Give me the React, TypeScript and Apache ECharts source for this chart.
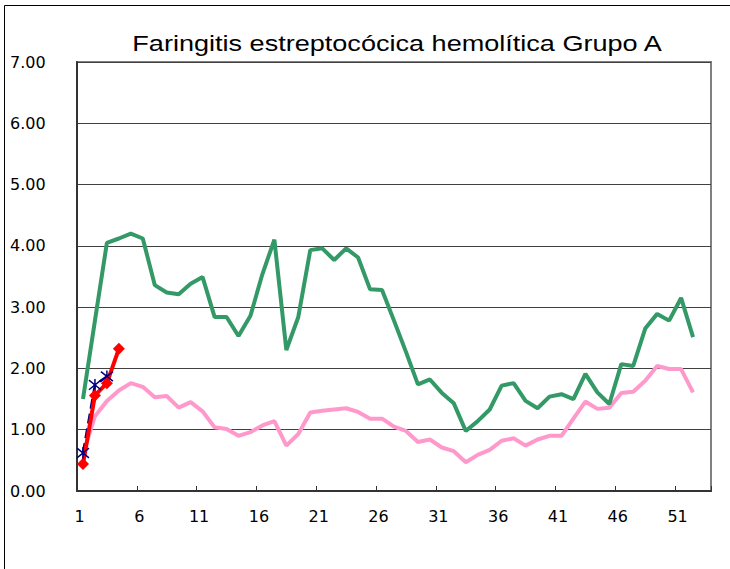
import React, { useEffect, useRef } from "react";
import * as echarts from "echarts";

const weeks: string[] = Array.from({ length: 53 }, (_, i) => String(i + 1));

const greenValues: number[] = [
  1.5, 2.78, 4.05, 4.12, 4.2, 4.12, 3.36, 3.24, 3.21, 3.38,
  3.49, 2.84, 2.84, 2.53, 2.86, 3.54, 4.1, 2.3, 2.84, 3.93,
  3.96, 3.77, 3.96, 3.81, 3.29, 3.28, 2.78, 2.27, 1.74, 1.82,
  1.6, 1.43, 0.98, 1.14, 1.33, 1.72, 1.76, 1.47, 1.35, 1.54,
  1.58, 1.5, 1.91, 1.61, 1.42, 2.07, 2.04, 2.65, 2.89, 2.78,
  3.15, 2.51,
];

const pinkValues: number[] = [
  0.6, 1.22, 1.47, 1.64, 1.76, 1.7, 1.53, 1.55, 1.36, 1.45,
  1.3, 1.04, 1.01, 0.9, 0.96, 1.07, 1.14, 0.74, 0.93, 1.28,
  1.31, 1.33, 1.35, 1.29, 1.18, 1.18, 1.05, 0.98, 0.8, 0.84,
  0.71, 0.65, 0.47, 0.59, 0.67, 0.82, 0.86, 0.74, 0.84, 0.9,
  0.9, 1.18, 1.46, 1.34, 1.36, 1.6, 1.62, 1.8, 2.04, 1.99,
  1.99, 1.61,
];

const blueValues: number[] = [0.62, 1.73, 1.87];
const redValues: number[] = [0.44, 1.56, 1.76, 2.32];

const titleText = "Faringitis estreptocócica hemolítica Grupo A";

const asterisk = "path://M5,0L5,10M1,1L9,9M9,1L1,9";

export default function App() {
  const ref = useRef<HTMLDivElement>(null);

  useEffect(() => {
    if (!ref.current) return;
    const chart = echarts.init(ref.current, null, { renderer: "svg" });
    const labelFont = "'DejaVu Sans', sans-serif";
    chart.setOption({
      animation: false,
      backgroundColor: "#ffffff",
      graphic: [
        {
          type: "rect",
          shape: { x: 4.5, y: 5.5, width: 900, height: 700 },
          style: { fill: "none", stroke: "#000000", lineWidth: 1 },
          silent: true,
          z: 0,
        },
        {
          type: "text",
          x: 397,
          y: 43,
          scaleX: 1.23,
          silent: true,
          z: 10,
          style: {
            text: titleText,
            font: "22px 'Liberation Sans', Arial, sans-serif",
            fill: "#000000",
            align: "center",
            verticalAlign: "middle",
          },
        },
      ],
      grid: {
        left: 77,
        right: 19,
        top: 62,
        bottom: 78,
        show: true,
        backgroundColor: "#ffffff",
        borderColor: "#808080",
        borderWidth: 2,
      },
      xAxis: {
        type: "category",
        data: weeks,
        boundaryGap: true,
        axisLine: { show: true, lineStyle: { color: "#333333", width: 2 } },
        axisTick: {
          show: true,
          inside: true,
          length: 5,
          interval: 4,
          lineStyle: { color: "#333333", width: 1 },
        },
        axisLabel: {
          interval: 4,
          margin: 17,
          padding: [0, 7, 0, 0],
          fontFamily: labelFont,
          fontSize: 16,
          color: "#000000",
        },
        splitLine: { show: false },
      },
      yAxis: {
        type: "value",
        min: 0,
        max: 7,
        interval: 1,
        axisLine: { show: true, lineStyle: { color: "#333333", width: 2 } },
        axisTick: { show: false },
        axisLabel: {
          align: "left",
          margin: 67,
          fontFamily: labelFont,
          fontSize: 16,
          color: "#000000",
          formatter: (v: number) => v.toFixed(2),
        },
        splitLine: { show: true, lineStyle: { color: "#404040", width: 1 } },
      },
      series: [
        {
          name: "Pink",
          type: "line",
          data: pinkValues,
          symbol: "none",
          lineStyle: { color: "#FF99CC", width: 4 },
          itemStyle: { color: "#FF99CC" },
        },
        {
          name: "Green",
          type: "line",
          data: greenValues,
          symbol: "none",
          lineStyle: { color: "#339966", width: 4 },
          itemStyle: { color: "#339966" },
        },
        {
          name: "Blue",
          type: "line",
          data: blueValues,
          symbol: asterisk,
          symbolSize: 12,
          showSymbol: true,
          showAllSymbol: true,
          lineStyle: { color: "#000080", width: 2.5, type: "dashed" },
          itemStyle: { color: "#000080", borderColor: "#000080", borderWidth: 1.5 },
        },
        {
          name: "Red",
          type: "line",
          data: redValues,
          symbol: "diamond",
          symbolSize: 12,
          showSymbol: true,
          showAllSymbol: true,
          lineStyle: { color: "#FF0000", width: 4 },
          itemStyle: { color: "#FF0000" },
        },
      ],
    });
    return () => chart.dispose();
  }, []);

  return (
    <div
      ref={ref}
      style={{ position: "fixed", left: 0, top: 0, width: 730, height: 569 }}
    />
  );
}
